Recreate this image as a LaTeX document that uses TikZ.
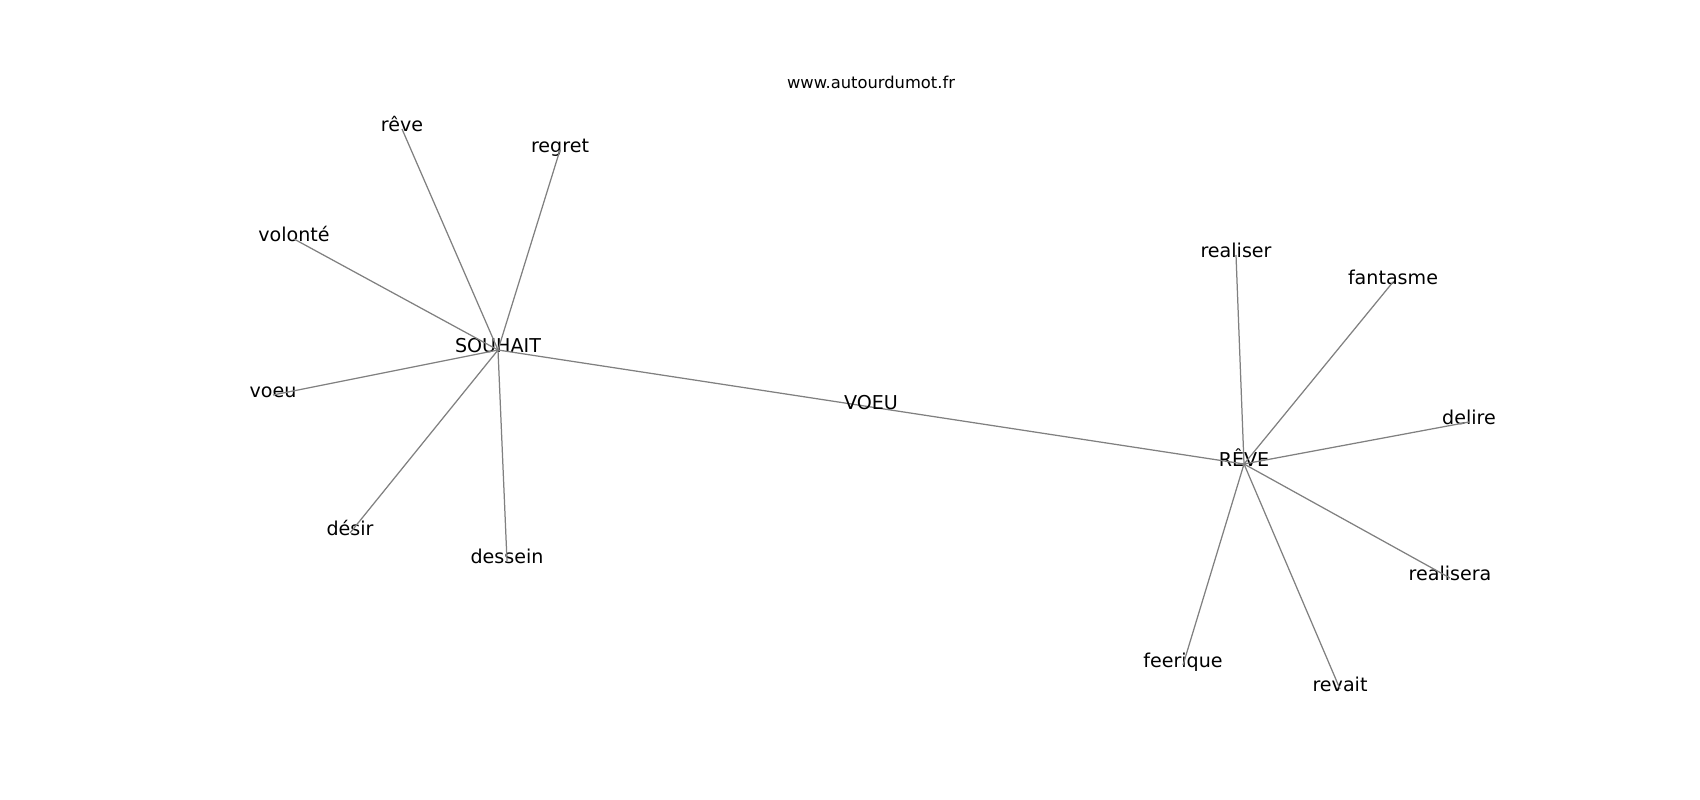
\documentclass[tikz,border=0pt]{standalone}
\usepackage{fontspec}
\setmainfont{DejaVu Sans}
\begin{document}
\begin{tikzpicture}[x=0.0254cm,y=-0.0254cm]
\tikzset{ every node/.style={inner sep=0pt, font=\fontsize{13.8}{16}\selectfont, text height=10.8pt, text depth=7.3pt}}
\tikzstyle{title}=[font=\fontsize{11.8}{14}\selectfont, text height=, text depth=, anchor=base]
\tikzstyle{ed}=[draw=gray, line width=.9pt]
\useasboundingbox (0,0) rectangle (1700,800);
%\begin{scope}
% vertices
\node[title] (site) at (871,89) {www.autourdumot.fr};
\node (souhait) at (498,350) {SOUHAIT};
\node (reve) at (1244,464) {RÊVE};
\node (lreve) at (402,129) {rêve};
\node (regret) at (560,150) {regret};
\node (volonte) at (294,239) {volonté};
\node (voeu) at (273,395) {voeu};
\node (desir) at (350,533) {désir};
\node (dessein) at (507,561) {dessein};
\node (realiser) at (1236,255) {realiser};
\node (fantasme) at (1393,282) {fantasme};
\node (delire) at (1469,422) {delire};
\node (realisera) at (1450,578) {realisera};
\node (feerique) at (1183,665) {feerique};
\node (revait) at (1340,689) {revait};
% edges
\draw[ed] (souhait.center) -- node (voeulabel) {VOEU} (reve.center);
\draw[ed] (souhait.center) -- (lreve.center);
\draw[ed] (souhait.center) -- (regret.center);
\draw[ed] (souhait.center) -- (volonte.center);
\draw[ed] (souhait.center) -- (voeu.center);
\draw[ed] (souhait.center) -- (desir.center);
\draw[ed] (souhait.center) -- (dessein.center);
\draw[ed] (reve.center) -- (realiser.center);
\draw[ed] (reve.center) -- (fantasme.center);
\draw[ed] (reve.center) -- (delire.center);
\draw[ed] (reve.center) -- (realisera.center);
\draw[ed] (reve.center) -- (feerique.center);
\draw[ed] (reve.center) -- (revait.center);
%\end{scope}
\end{tikzpicture}
\end{document}
